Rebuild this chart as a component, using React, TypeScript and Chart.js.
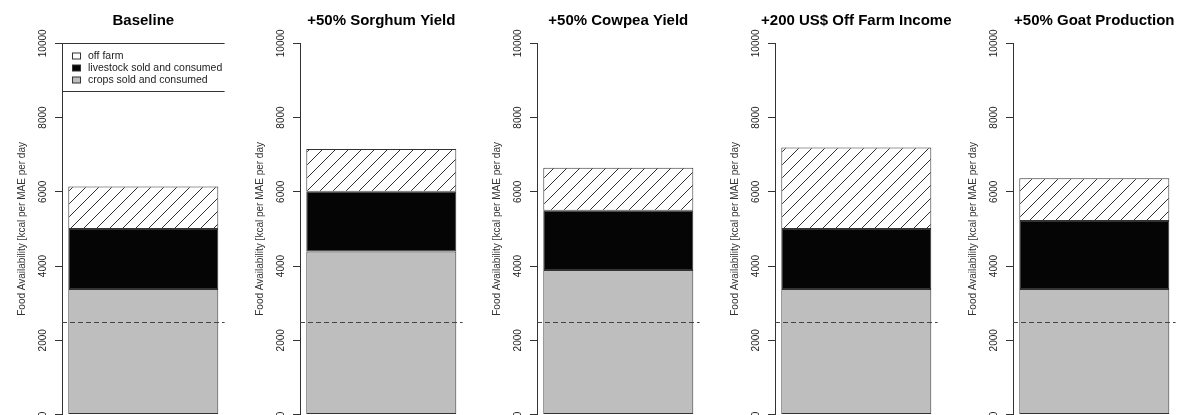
import React, { useEffect, useRef } from "react";
import { Chart, registerables } from "chart.js";

Chart.register(...registerables);

// Scenario panels and the three food sources stacked in each bar (kcal per MAE per day)
const scenarios = [
  "Baseline",
  "+50% Sorghum Yield",
  "+50% Cowpea Yield",
  "+200 US$ Off Farm Income",
  "+50% Goat Production",
];
const cropsSoldConsumed = [3380, 4390, 3890, 3380, 3380];
const livestockSoldConsumed = [1620, 1610, 1600, 1620, 1835];
const offFarm = [1140, 1150, 1160, 2190, 1150];
const yTickStep = 2000;
const yMax = 10000;
const foodRequirement = 2500;
const legendLabels = ["off farm", "livestock sold and consumed", "crops sold and consumed"];
const yAxisTitle = "Food Availability [kcal per MAE per day";

const FONT = "'Liberation Sans', Arial, Helvetica, sans-serif";
const CANVAS_W = 250;
const CANVAS_H = 415;
const PANEL_STEP = 237.65;
const Y_AXIS_W = 62;
const PLOT_W = 162.6;

const CROP_COLOR = "#bebebe";
const LIVESTOCK_COLOR = "#050505";
const EDGE = "#333333";

function makeHatch(): CanvasPattern | string {
  const s = 13;
  const c = document.createElement("canvas");
  c.width = s;
  c.height = s;
  const g = c.getContext("2d");
  if (!g) return "#ffffff";
  g.fillStyle = "#ffffff";
  g.fillRect(0, 0, s, s);
  g.strokeStyle = "#1a1a1a";
  g.lineWidth = 0.9;
  g.beginPath();
  g.moveTo(0, s);
  g.lineTo(s, 0);
  g.moveTo(-s / 2, s / 2);
  g.lineTo(s / 2, -s / 2);
  g.moveTo(s / 2, s * 1.5);
  g.lineTo(s * 1.5, s / 2);
  g.stroke();
  return g.createPattern(c, "repeat") || "#ffffff";
}

// Bold heading centred over each plot area
const panelTitle = {
  id: "panelTitle",
  afterDraw(chart: any, _args: any, opts: any) {
    const { ctx, chartArea } = chart;
    ctx.save();
    ctx.font = `bold 15px ${FONT}`;
    ctx.fillStyle = "#000";
    ctx.textAlign = "center";
    ctx.textBaseline = "middle";
    ctx.fillText(opts.text, (chartArea.left + chartArea.right) / 2, chartArea.top - 22);
    ctx.restore();
  },
};

// Dashed reference line for the daily requirement
const requirementLine = {
  id: "requirementLine",
  afterDatasetsDraw(chart: any) {
    const { ctx, chartArea, scales } = chart;
    const y = Math.round(scales.y.getPixelForValue(foodRequirement)) + 0.5;
    ctx.save();
    ctx.strokeStyle = "#444";
    ctx.lineWidth = 1;
    ctx.setLineDash([5, 3]);
    ctx.beginPath();
    ctx.moveTo(chartArea.left, y);
    ctx.lineTo(chartArea.right, y);
    ctx.stroke();
    ctx.restore();
  },
};

// Boxed key in the top-left corner of the first panel
const sourceLegend = {
  id: "sourceLegend",
  afterDraw(chart: any, _args: any, opts: any) {
    if (!opts || !opts.show) return;
    const { ctx, chartArea } = chart;
    const left = chartArea.left;
    const right = chartArea.right;
    const top = Math.round(chartArea.top) + 0.5;
    const bottom = top + 48;
    const fills = ["#ffffff", LIVESTOCK_COLOR, CROP_COLOR];
    ctx.save();
    ctx.strokeStyle = EDGE;
    ctx.lineWidth = 1;
    ctx.beginPath();
    ctx.moveTo(left, top);
    ctx.lineTo(right, top);
    ctx.moveTo(left, bottom);
    ctx.lineTo(right, bottom);
    ctx.stroke();
    ctx.font = `10.5px ${FONT}`;
    ctx.textBaseline = "middle";
    ctx.textAlign = "left";
    legendLabels.forEach((label, k) => {
      const cy = top + 12.5 + k * 12;
      ctx.fillStyle = fills[k];
      ctx.fillRect(left + 10.5, cy - 3, 8, 6);
      ctx.strokeStyle = EDGE;
      ctx.strokeRect(left + 10.5, cy - 3, 8, 6);
      ctx.fillStyle = "#222";
      ctx.fillText(label, left + 26, cy + 0.5);
    });
    ctx.restore();
  },
};

function Panel({ index }: { index: number }) {
  const ref = useRef<HTMLCanvasElement | null>(null);

  useEffect(() => {
    if (!ref.current) return;
    const hatch = makeHatch();
    const edge = { borderColor: EDGE, borderWidth: 1, borderSkipped: false as const };
    const chart = new Chart(ref.current, {
      type: "bar",
      data: {
        labels: [scenarios[index]],
        datasets: [
          { label: legendLabels[2], data: [cropsSoldConsumed[index]], backgroundColor: CROP_COLOR, ...edge },
          { label: legendLabels[1], data: [livestockSoldConsumed[index]], backgroundColor: LIVESTOCK_COLOR, ...edge },
          { label: legendLabels[0], data: [offFarm[index]], backgroundColor: hatch as any, ...edge },
        ],
      },
      options: {
        animation: false,
        responsive: false,
        events: [],
        layout: {
          padding: { top: 43.3, bottom: 0.5, left: 0, right: CANVAS_W - Y_AXIS_W - PLOT_W },
        },
        datasets: { bar: { categoryPercentage: 0.9225, barPercentage: 1 } },
        plugins: {
          legend: { display: false },
          tooltip: { enabled: false },
          title: { display: false },
          panelTitle: { text: scenarios[index] },
          sourceLegend: { show: index === 0 },
        } as any,
        scales: {
          x: { type: "category", stacked: true, display: false },
          y: {
            stacked: true,
            min: 0,
            max: yMax,
            afterFit(scale: any) {
              scale.width = Y_AXIS_W;
              scale.paddingTop = 0;
              scale.paddingBottom = 0;
            },
            ticks: {
              stepSize: yTickStep,
              minRotation: 90,
              maxRotation: 90,
              crossAlign: "center",
              padding: -2,
              color: "#222",
              font: { family: FONT, size: 10 },
              callback: (value: any) => String(value),
            },
            grid: { drawOnChartArea: false, drawTicks: true, tickLength: 7, color: EDGE },
            border: { display: true, color: EDGE, width: 1 },
            title: {
              display: true,
              text: yAxisTitle,
              color: "#333",
              font: { family: FONT, size: 10 },
              padding: { top: 16, bottom: 0 },
            },
          },
        },
      },
      plugins: [requirementLine, panelTitle, sourceLegend],
    });
    return () => chart.destroy();
  }, [index]);

  return (
    <canvas
      ref={ref}
      width={CANVAS_W}
      height={CANVAS_H}
      style={{ position: "absolute", top: 0, left: Math.round(index * PANEL_STEP), width: CANVAS_W, height: CANVAS_H }}
    />
  );
}

export default function App() {
  return (
    <div
      style={{
        position: "fixed",
        left: 0,
        top: 0,
        width: 1178,
        height: 415,
        overflow: "hidden",
        background: "#ffffff",
      }}
    >
      {scenarios.map((s, i) => (
        <Panel key={s} index={i} />
      ))}
    </div>
  );
}
